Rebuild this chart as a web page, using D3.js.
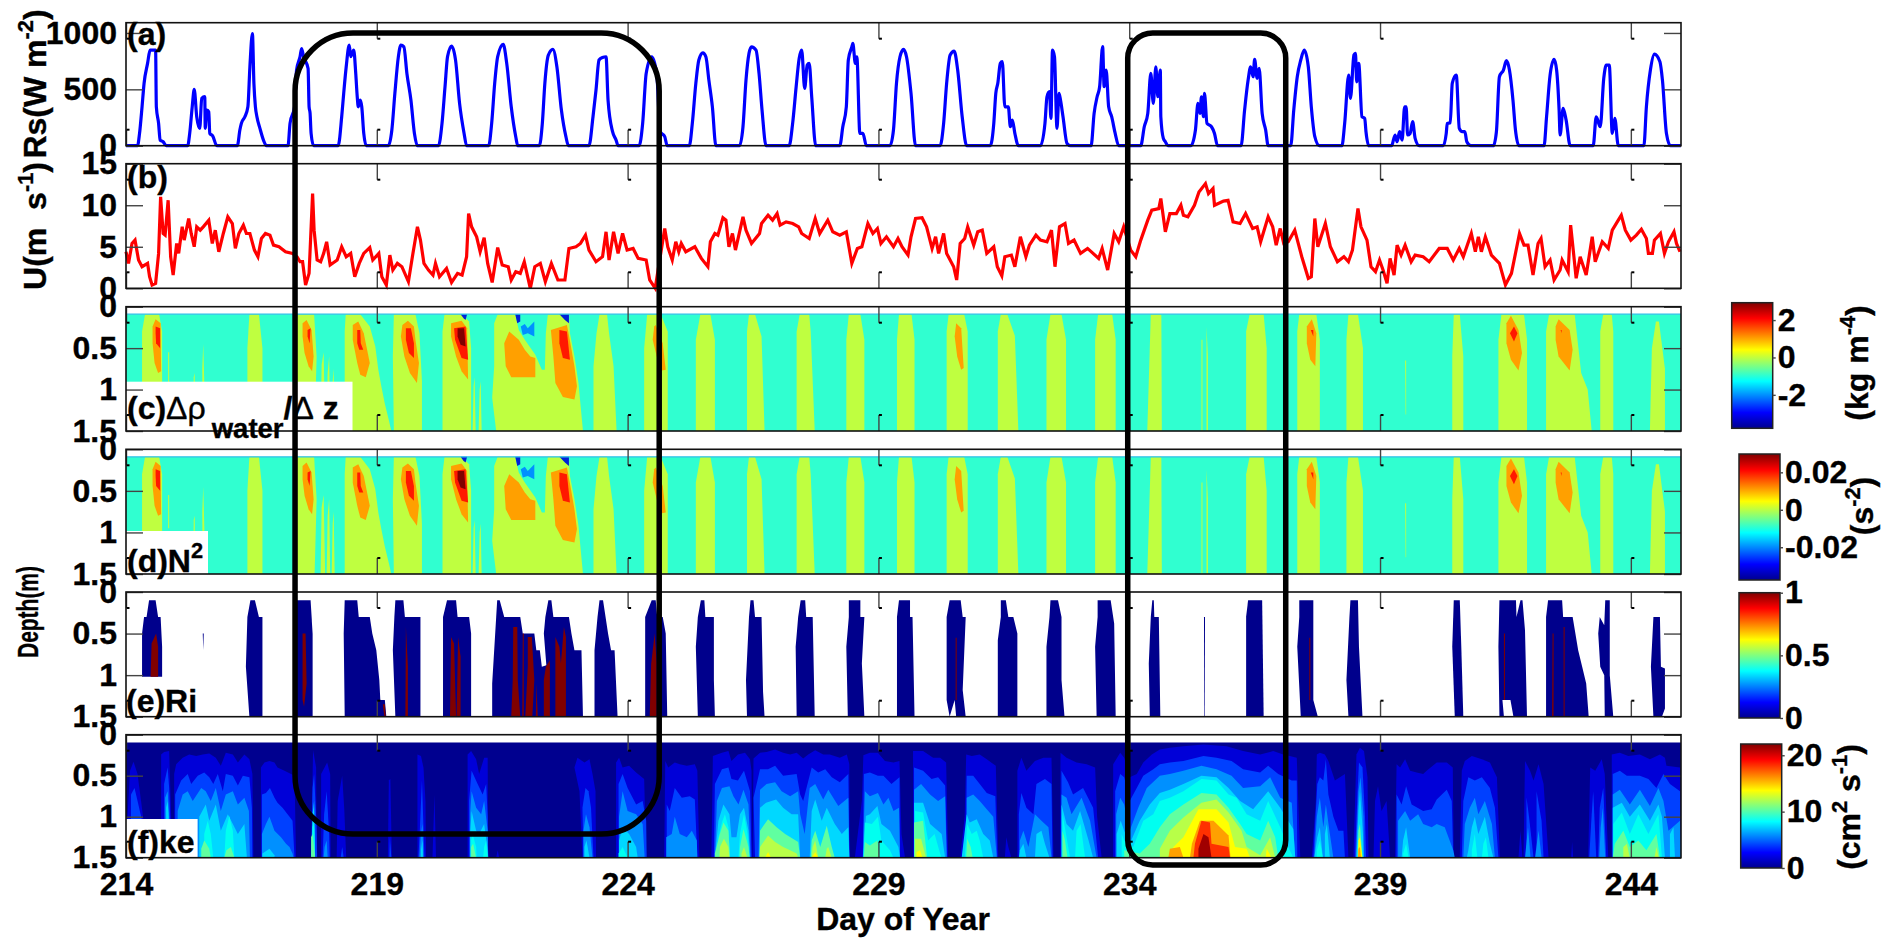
<!DOCTYPE html>
<html>
<head>
<meta charset="utf-8">
<script src="https://cdn.jsdelivr.net/npm/d3@7"></script>
<style>
    html, body { margin: 0; padding: 0; background: #fff; }
    svg { display: block; }
    text { font-family: "Liberation Sans", Arial, sans-serif; font-weight: bold; fill: #000; stroke: #000; stroke-width: 0.35px; }
    .tick text { font-size: 32px; }
</style>
</head>
<body>
<div id="chart"></div>
<script>
// tick labels
const dayTicks = [214, 219, 224, 229, 234, 239, 244];
const rsTicks = [0, 500, 1000];
const windTicks = [0, 5, 10, 15];
const depthTicks = [0, 0.5, 1, 1.5];

// (a) solar radiation, one row per day starting at 214: fraction of the day and W m-2
const rsFrac = [
    [.23,.27,.32,.36,.43,.48,.59,.605,.65,.68,.74,.80],
    [.23,.27,.32,.36,.41,.47,.51,.57,.58,.61,.65,.67,.73,.81],
    [.22,.27,.30,.37,.43,.47,.52,.55,.58,.61,.67,.74,.80],
    [.23,.27,.36,.40,.47,.50,.54,.63,.65,.67,.69,.74],
    [.23,.30,.34,.39,.45,.48,.54,.58,.61,.63,.67,.70,.74,.79],
    [.23,.30,.36,.43,.48,.54,.60,.68,.75,.81],
    [.23,.30,.36,.41,.49,.57,.65,.74,.79],
    [.23,.29,.35,.41,.52,.59,.68,.77,.81],
    [.24,.30,.35,.42,.51,.59,.68,.77,.82],
    [.23,.31,.37,.43,.50,.57,.61,.70,.77,.81],
    [.23,.30,.37,.48,.58,.65,.74,.79],
    [.23,.29,.36,.42,.50,.56,.62,.69,.76],
    [.23,.30,.36,.42,.47,.56,.62,.68,.76],
    [.22,.29,.36,.42,.47,.53,.58,.62,.67,.75],
    [.23,.29,.36,.40,.47,.49,.54,.57,.63,.69,.76],
    [.23,.30,.36,.43,.50,.56,.65,.74],
    [.23,.30,.36,.43,.51,.58,.67,.76],
    [.23,.30,.34,.38,.43,.47,.52,.59,.63,.67,.72,.79],
    [.23,.32,.36,.41,.44,.47,.51,.56,.60,.63,.68,.76,.83],
    [.24,.30,.36,.41,.47,.50,.54,.59,.65,.72,.79],
    [.23,.30,.37,.43,.48,.53,.57,.62,.63,.68,.72,.77],
    [.23,.32,.37,.41,.44,.48,.50,.55,.64,.70,.76],
    [.23,.30,.37,.42,.47,.50,.55,.59,.65,.72,.77],
    [.22,.28,.35,.42,.49,.57,.63,.70,.79],
    [.24,.295,.375,.41,.48,.51,.535,.575,.64,.695,.72,.775],
    [.23,.30,.34,.39,.44,.49,.52,.55,.60,.65,.70,.78],
    [.26,.32,.34,.40,.44,.52,.58,.64,.69,.73,.81],
    [.26,.32,.38,.46,.52,.58,.65,.70,.77],
    [.27,.32,.39,.47,.52,.57,.59,.65,.71,.79],
    [.25,.31,.39,.46,.51,.57,.63,.68,.75],
    [.26,.31,.39,.47,.58,.63,.71,.79]
];
const rsValue = [
    [0,109,345,552,730,848,848,345,197,50,35,0],
    [0,109,345,499,257,154,421,436,154,316,301,109,86,0],
    [0,139,198,257,345,700,995,553,345,257,154,50,0],
    [0,198,345,670,790,862,790,685,345,286,110,0],
    [0,257,464,700,892,790,848,641,434,345,404,345,109,0],
    [0,139,464,790,892,877,641,405,109,0],
    [0,198,523,790,884,759,375,109,0],
    [0,198,553,790,898,730,345,80,0],
    [0,198,553,804,854,700,316,80,0],
    [0,257,494,760,783,789,405,124,50,0],
    [0,198,641,789,641,124,80,0],
    [0,198,553,760,824,789,582,345,0],
    [0,168,582,819,877,848,641,316,0],
    [0,198,523,774,848,508,715,730,434,0],
    [0,168,345,760,877,907,730,789,109,109,0],
    [0,139,553,789,854,789,464,0],
    [0,198,553,804,839,671,257,0],
    [0,198,464,553,730,745,345,345,168,227,110,0],
    [0,198,434,479,242,848,789,154,464,405,257,20,0],
    [0,287,434,523,878,523,671,345,257,109,0],
    [0,168,287,641,375,700,434,671,257,65,35,0],
    [0,139,375,287,434,257,464,198,168,109,0],
    [0,316,582,700,612,765,597,686,287,139,0],
    [0,316,612,760,848,700,345,80,0],
    [0,198,627,420,805,820,567,730,257,242,124,0],
    [0,95,35,124,50,345,345,95,109,213,65,0],
    [0,109,198,204,553,626,154,124,124,35,0],
    [0,124,612,671,754,671,405,139,0],
    [0,257,626,765,671,316,95,331,227,0],
    [0,257,168,597,715,715,109,242,0],
    [0,345,671,812,745,582,109,0]
];

// (b) wind speed as day, U pairs
const windPairs = [
    214.00,4.4, 214.05,3.0, 214.12,5.4, 214.18,5.8, 214.25,3.4, 214.32,2.6, 214.43,3.0, 214.47,1.4, 214.52,.4, 214.59,.6,
    214.65,4.2, 214.69,11.0, 214.74,6.6, 214.78,6.4, 214.84,10.6, 214.89,3.8, 214.94,1.6, 215.01,5.4, 215.05,4.2, 215.12,7.4,
    215.16,5.8, 215.25,8.4, 215.30,6.6, 215.36,5.0, 215.41,7.4, 215.48,7.0, 215.54,7.4, 215.65,8.2, 215.72,5.4, 215.78,7.0,
    215.85,4.4, 215.94,6.6, 216.03,8.6, 216.12,7.8, 216.18,4.8, 216.25,6.6, 216.34,7.6, 216.40,6.6, 216.47,6.6, 216.56,4.6,
    216.63,3.8, 216.70,6.0, 216.78,6.6, 216.87,6.4, 216.94,5.2, 217.05,5.0, 217.18,4.4, 217.32,4.2, 217.41,3.8, 217.47,3.2,
    217.52,3.2, 217.58,.4, 217.65,1.8, 217.72,11.4, 217.75,7.0, 217.81,3.4, 217.88,3.2, 217.94,4.2, 218.00,5.6, 218.07,2.8,
    218.21,3.4, 218.30,5.0, 218.39,3.8, 218.48,4.2, 218.56,1.4, 218.65,3.0, 218.74,4.2, 218.86,4.9, 218.92,3.4, 219.04,4.2,
    219.10,1.4, 219.19,.4, 219.26,4.0, 219.32,2.2, 219.41,3.0, 219.50,2.6, 219.63,.8, 219.72,4.2, 219.81,7.4, 219.87,5.8,
    219.94,3.0, 220.03,2.2, 220.12,1.6, 220.17,3.0, 220.25,1.4, 220.39,2.4, 220.49,.7, 220.61,1.8, 220.70,1.6, 220.79,3.8,
    220.83,9.0, 220.89,7.4, 220.99,6.2, 221.06,4.4, 221.14,6.1, 221.21,3.0, 221.30,.7, 221.41,4.9, 221.50,2.8, 221.62,2.6,
    221.68,1.0, 221.77,2.0, 221.86,1.8, 221.94,3.2, 222.06,0, 222.15,2.6, 222.26,3.0, 222.36,.8, 222.48,3.0, 222.61,1.0,
    222.75,1.0, 222.83,4.8, 222.97,5.0, 223.06,5.4, 223.16,6.4, 223.23,4.6, 223.37,3.2, 223.50,3.8, 223.57,6.8, 223.63,3.4,
    223.72,6.8, 223.81,4.2, 223.90,6.6, 223.99,4.6, 224.11,4.8, 224.21,3.6, 224.37,3.4, 224.44,1.0, 224.55,0,
    224.66,4.2, 224.74,7.2, 224.80,5.0, 224.89,3.4, 224.96,5.6, 225.02,4.4, 225.07,5.4, 225.16,4.4, 225.34,5.0, 225.47,3.6,
    225.60,2.6, 225.65,5.6, 225.74,6.6, 225.80,6.4, 225.90,8.5, 225.96,8.2, 226.02,5.0, 226.09,6.6, 226.15,4.6, 226.30,8.6,
    226.36,7.0, 226.47,5.4, 226.63,6.6, 226.67,7.8, 226.80,8.8, 226.89,8.2, 226.98,9.0, 227.04,7.6, 227.16,8.0, 227.29,7.8,
    227.41,7.4, 227.47,6.6, 227.62,6.0, 227.74,8.4, 227.83,6.6, 227.99,8.2, 228.09,6.8, 228.23,6.4, 228.36,6.8, 228.47,3.0,
    228.58,4.8, 228.67,5.0, 228.79,7.8, 228.89,6.6, 228.98,7.2, 229.05,5.4, 229.16,6.2, 229.30,5.0, 229.39,6.0, 229.47,5.0,
    229.59,4.0, 229.65,6.2, 229.74,8.4, 229.87,8.5, 229.96,7.4, 230.07,4.8, 230.14,6.2, 230.20,4.2, 230.30,6.6, 230.36,4.2,
    230.50,2.6, 230.56,1.0, 230.63,5.4, 230.72,6.0, 230.78,7.4, 230.90,5.2, 230.98,6.8, 231.07,7.0, 231.16,4.2, 231.30,5.0,
    231.37,2.6, 231.46,1.5, 231.52,3.8, 231.65,4.0, 231.72,2.6, 231.83,6.2, 231.94,3.8, 232.01,5.2, 232.14,6.4, 232.23,5.8,
    232.36,5.6, 232.45,7.0, 232.52,2.6, 232.61,7.4, 232.72,7.8, 232.79,5.4, 232.90,5.8, 233.03,4.2, 233.17,4.8, 233.39,3.6,
    233.46,4.8, 233.57,2.2, 233.70,6.6, 233.79,5.6, 233.89,7.4, 234.03,4.6, 234.13,3.8, 234.23,5.8, 234.37,8.2, 234.45,9.4,
    234.59,9.6, 234.63,10.8, 234.72,6.8, 234.81,9.0, 234.94,9.0, 235.03,10.0, 235.08,8.8, 235.17,8.6, 235.30,10.0, 235.39,11.6,
    235.52,12.6, 235.58,11.4, 235.67,12.0, 235.70,10.0, 235.88,10.5, 235.97,10.6, 236.07,8.0, 236.21,7.8, 236.32,9.0, 236.46,7.2,
    236.55,7.4, 236.62,5.6, 236.77,8.6, 236.86,7.4, 236.93,5.2, 237.01,7.2, 237.08,5.4, 237.17,5.6, 237.30,7.0, 237.44,3.8,
    237.57,1.2, 237.63,1.4, 237.70,8.4, 237.76,5.0, 237.91,7.8, 238.01,5.0, 238.15,3.2, 238.28,3.8, 238.37,3.2, 238.45,4.6,
    238.56,9.6, 238.62,7.4, 238.74,5.8, 238.82,2.6, 238.91,2.0, 238.99,3.4, 239.06,2.2, 239.14,.6, 239.20,3.6, 239.28,1.6,
    239.34,5.2, 239.42,4.0, 239.50,5.2, 239.62,3.2, 239.70,4.0, 239.86,3.8, 239.98,3.2, 240.18,4.8, 240.34,4.8, 240.46,3.4,
    240.58,4.8, 240.66,3.8, 240.82,6.6, 240.90,4.4, 240.96,6.2, 241.02,4.4, 241.10,6.2, 241.22,4.0, 241.38,3.0, 241.50,.4,
    241.62,1.8, 241.78,6.6, 241.87,5.2, 241.95,5.2, 242.05,1.6, 242.15,5.4, 242.21,6.0, 242.29,2.6, 242.39,3.4, 242.47,1.0,
    242.59,2.2, 242.63,3.4, 242.75,2.0, 242.80,7.6, 242.91,1.2, 242.99,3.8, 243.11,1.6, 243.23,6.2, 243.29,3.2, 243.43,5.6,
    243.55,4.8, 243.63,7.0, 243.75,8.2, 243.81,8.8, 243.89,7.0, 244.00,5.8, 244.11,6.4, 244.21,7.1, 244.31,6.0, 244.35,4.2,
    244.43,4.2, 244.47,5.8, 244.59,6.6, 244.67,4.2, 244.75,5.6, 244.86,6.8, 244.91,5.4, 244.98,4.4
];

// (c, d) density gradient contour bands, outlines as day, depth pairs
const densYellow = [
    [214.38,.09,214.66,.09,214.72,.30,214.72,1.5,214.32,1.5,214.32,.30],
    [214.84,.55,214.86,.55,214.86,.95,214.84,.95],[215.35,.85,215.37,.8,215.38,1.5,215.34,1.5],[215.52,.75,215.54,.45,215.56,.9,215.58,1.5,215.53,1.5],
    [216.46,.09,216.65,.09,216.72,.5,216.72,1.5,216.42,1.5,216.42,.5],
    [217.42,.09,217.75,.09,217.8,.6,217.76,1.5,217.35,1.5,217.35,.4],
    [217.90,.7,217.94,.55,217.97,1.5,217.88,1.5],[218.02,.8,218.05,.6,218.07,1.5,218.0,1.5],[218.12,.9,218.14,.75,218.16,1.5,218.10,1.5],
    [218.38,.09,218.67,.09,218.86,.24,218.97,.48,219.03,.76,219.09,.96,219.16,1.17,219.24,1.37,219.29,1.5,218.36,1.5,218.36,.3],
    [219.34,.09,219.77,.09,219.85,.32,219.90,.9,219.90,1.5,219.34,1.5,219.32,.6],
    [220.35,.09,220.69,.09,220.84,.18,220.88,.5,220.88,1.5,220.31,1.5,220.31,.3],
    [220.93,.95,220.95,.85,220.97,1.5,220.91,1.5],[221.05,1.0,221.07,.9,221.09,1.5,221.03,1.5],
    [221.41,.09,221.76,.09,221.83,.28,221.95,.40,222.16,.58,222.29,.76,222.35,.76,222.37,.32,222.41,.09,222.83,.09,222.85,.32,222.94,.60,223.02,.92,223.11,1.5,221.38,1.5,221.30,1.1,221.34,.72,221.34,.2],
    [223.44,.09,223.59,.09,223.63,.32,223.72,.72,223.78,1.5,223.32,1.5,223.32,.72,223.38,.32],
    [224.39,.09,224.66,.09,224.80,.3,224.80,1.5,224.33,1.5,224.33,.5],
    [225.45,.09,225.65,.09,225.74,.4,225.74,1.5,225.36,1.5,225.36,.4],
    [226.42,.09,226.54,.09,226.67,.36,226.73,1.5,226.38,1.5,226.38,.3],
    [227.43,.09,227.62,.09,227.65,.3,227.73,1.5,227.37,1.5,227.37,.3],
    [228.41,.09,228.64,.09,228.72,.4,228.72,1.5,228.36,1.5,228.36,.4],
    [229.41,.09,229.66,.09,229.72,.4,229.72,1.5,229.37,1.5,229.37,.4],
    [230.40,.09,230.71,.09,230.78,.3,230.78,1.5,230.36,1.5,230.36,.3],
    [231.44,.09,231.57,.09,231.72,.35,231.79,1.5,231.38,1.5,231.38,.3],
    [232.43,.09,232.65,.09,232.74,.4,232.74,1.5,232.35,1.5,232.35,.4],
    [233.38,.09,233.66,.09,233.73,.4,233.73,1.5,233.32,1.5,233.32,.4],
    [234.43,.09,234.64,.09,234.65,1.5,234.36,1.5],
    [235.44,.4,235.46,.4,235.46,1.5,235.44,1.5],[235.54,.24,235.57,.6,235.57,1.5,235.54,1.5],
    [236.40,.09,236.68,.09,236.74,.5,236.74,1.5,236.33,1.5,236.33,.3],
    [237.39,.09,237.73,.09,237.80,.4,237.80,1.5,237.35,1.5,237.35,.3],
    [238.37,.09,238.56,.09,238.66,.5,238.66,1.5,238.33,1.5,238.33,.4],
    [239.50,.65,239.52,.65,239.52,1.3,239.51,1.3],
    [240.47,.09,240.59,.09,240.66,.6,240.66,1.5,240.44,1.5,240.44,.6],
    [241.42,.09,241.87,.09,241.93,.4,241.93,1.5,241.36,1.5,241.36,.4],
    [242.37,.09,242.88,.09,243.01,.8,243.14,1.0,243.22,1.5,242.31,1.5,242.31,.3],
    [243.45,.09,243.62,.09,243.65,.3,243.65,1.5,243.39,1.5,243.39,.3],
    [244.50,.18,244.56,.18,244.68,.75,244.68,1.5,244.38,1.5,244.42,.5]
];
const densOrange = [
    [214.59,.15,214.69,.20,214.70,.78,214.64,.80,214.57,.68,214.53,.44,214.53,.24],
    [217.52,.20,217.60,.16,217.70,.28,217.74,.60,217.71,.78,217.64,.72,217.56,.56,217.52,.36],
    [218.52,.22,218.63,.18,218.74,.32,218.86,.68,218.78,.85,218.67,.82,218.61,.68,218.52,.40],
    [219.51,.22,219.62,.17,219.74,.24,219.77,.40,219.84,.68,219.80,.92,219.66,.80,219.55,.60,219.48,.36],
    [220.48,.20,220.69,.17,220.80,.26,220.82,.88,220.69,.78,220.58,.60,220.48,.36],
    [221.64,.30,221.83,.40,221.95,.52,222.06,.60,222.16,.62,222.16,.85,221.68,.85,221.57,.72,221.54,.44],
    [222.47,.28,222.79,.22,222.86,.44,222.94,.72,222.99,.96,222.94,1.12,222.71,1.09,222.56,.92,222.52,.60],
    [224.53,.24,224.56,.22,224.70,.44,224.76,.76,224.68,.77,224.58,.60,224.50,.40],
    [230.55,.20,230.65,.26,230.70,.74,230.65,.76,230.57,.60,230.52,.36],
    [237.54,.24,237.64,.15,237.73,.32,237.71,.72,237.61,.64,237.54,.44],
    [241.52,.20,241.61,.11,241.76,.28,241.83,.56,241.76,.77,241.61,.64,241.52,.44],
    [242.50,.24,242.56,.15,242.78,.28,242.84,.52,242.78,.77,242.56,.60,242.50,.40]
];
const densRed = [
    [214.59,.24,214.68,.26,214.68,.50,214.60,.44,214.59,.32],
    [217.62,.28,217.68,.26,217.66,.44,217.62,.36],
    [218.61,.28,218.67,.28,218.68,.44,218.73,.52,218.65,.52,218.61,.44],
    [219.58,.26,219.68,.26,219.74,.44,219.74,.62,219.64,.56,219.58,.40],
    [220.54,.26,220.77,.24,220.82,.64,220.69,.62,220.56,.40],
    [222.64,.28,222.79,.30,222.85,.64,222.71,.62,222.64,.44],
    [237.62,.28,237.67,.28,237.67,.36],
    [241.59,.32,241.67,.24,241.74,.32,241.67,.42],
    [242.60,.28,242.62,.28,242.62,.32]
];
const densDark = [[220.61,.26,220.74,.26,220.77,.48,220.67,.46,220.61,.36]];
const densSky = [[221.87,.24,221.95,.21,222.01,.26,222.14,.18,222.14,.36,222.01,.32,221.91,.34]];
const densDeep = [
    [220.67,.09,220.80,.09,220.77,.16,220.73,.14],
    [221.76,.09,221.86,.09,221.86,.18,221.80,.20],
    [222.64,.09,222.83,.09,222.83,.20,222.75,.16]
];

// (e) Richardson number contour patches
const riLow = [
    [214.46,.10,214.59,.10,214.64,.30,214.69,.30,214.72,.66,214.72,1.02,214.32,1.02,214.32,.50,214.36,.30,214.41,.30],
    [215.53,.5,215.55,.5,215.54,.7],
    [216.48,.10,216.57,.10,216.65,.30,216.72,.30,216.72,1.5,216.46,1.5,216.39,.90,216.42,.30],
    [217.36,.10,217.68,.10,217.72,.50,217.72,1.5,217.38,1.5],
    [218.36,.10,218.61,.10,218.64,.30,218.86,.30,218.91,.50,218.99,.70,219.05,1.06,219.07,1.30,219.16,1.30,219.19,1.5,218.36,1.5,218.34,.50],
    [219.37,.10,219.53,.10,219.56,.30,219.87,.30,219.87,1.5,219.37,1.5,219.32,.70,219.35,.30],
    [220.40,.10,220.58,.10,220.61,.30,220.84,.30,220.88,.50,220.88,1.5,220.32,1.5,220.32,.30],
    [221.40,.10,221.45,.10,221.54,.30,221.86,.30,221.91,.50,222.14,.50,222.18,.70,222.25,.70,222.29,.90,222.38,.88,222.33,.50,222.36,.30,222.42,.10,222.48,.10,222.52,.30,222.83,.30,222.88,.50,222.94,.70,223.08,.70,223.11,1.5,221.30,1.5,221.30,1.1,221.38,.30],
    [223.44,.10,223.51,.10,223.61,.50,223.67,.70,223.74,.70,223.80,1.5,223.34,1.5,223.34,.70,223.40,.30],
    [224.48,.10,224.56,.10,224.59,.30,224.70,.30,224.76,.50,224.79,1.5,224.35,1.5,224.35,.30],
    [225.46,.10,225.53,.10,225.55,.30,225.72,.30,225.72,1.06,225.74,1.5,225.40,1.5,225.36,.66,225.40,.30],
    [226.45,.10,226.51,.10,226.54,.30,226.67,.30,226.70,1.2,226.73,1.5,226.38,1.5,226.36,1.06,226.42,.30],
    [227.45,.10,227.54,.10,227.56,.30,227.69,.30,227.73,1.5,227.37,1.5,227.35,.66,227.40,.30],
    [228.41,.10,228.64,.10,228.64,.30,228.72,.30,228.67,.86,228.72,1.5,228.39,1.5,228.36,.66,228.41,.30],
    [229.41,.10,229.63,.10,229.63,.30,229.68,.30,229.72,1.5,229.37,1.5,229.37,.30],
    [230.42,.10,230.64,.10,230.68,.30,230.74,.30,230.68,1.18,230.74,1.5,230.55,1.5,230.52,1.3,230.42,1.5,230.36,1.3,230.36,.30],
    [231.44,.10,231.54,.10,231.59,.30,231.69,.30,231.77,.50,231.77,1.5,231.38,1.5,231.38,.58,231.44,.30],
    [232.43,.10,232.58,.10,232.65,.30,232.65,1.06,232.71,1.5,232.35,1.5,232.35,.66,232.41,.30],
    [233.37,.10,233.63,.10,233.70,.38,233.73,1.5,233.35,1.5,233.32,.66,233.37,.30],
    [234.46,.10,234.49,.10,234.50,.30,234.59,.30,234.62,1.5,234.41,1.5,234.39,.86,234.43,.30],
    [235.49,.30,235.51,.30,235.51,1.5,235.50,1.5],
    [236.37,.10,236.65,.10,236.68,1.5,236.33,1.5,236.33,.30],
    [237.39,.10,237.67,.10,237.67,1.30,237.76,1.5,237.42,1.5,237.35,.66,237.39,.30],
    [238.41,.10,238.56,.10,238.58,.66,238.65,1.5,238.37,1.5,238.33,1.06,238.39,.30],
    [240.47,.10,240.59,.10,240.62,.66,240.66,1.5,240.49,1.5,240.44,.66],
    [241.38,.10,241.71,.10,241.72,.30,241.80,.10,241.84,.10,241.89,.46,241.93,1.5,241.66,1.5,241.60,1.30,241.44,1.30,241.47,1.5,241.38,1.5,241.36,.66],
    [242.35,.10,242.63,.10,242.65,.30,242.84,.30,242.95,.70,243.03,.90,243.11,1.10,243.16,1.5,242.31,1.5,242.31,.30],
    [243.49,.10,243.58,.10,243.58,1.0,243.65,1.5,243.48,1.5,243.47,1.0,243.39,.90,243.35,.50,243.38,.30,243.47,.40],
    [244.45,.30,244.58,.30,244.60,.90,244.68,.92,244.68,1.4,244.62,1.5,244.45,1.5,244.40,.9]
];
const riHigh = [
    [214.49,1.02,214.51,.62,214.60,.50,214.64,.66,214.64,1.02],
    [217.52,.5,217.58,.5,217.60,1.1,217.55,1.38,217.52,1.3],
    [219.12,1.35,219.16,1.35,219.18,1.5,219.15,1.5],
    [219.58,.42,219.62,.9,219.62,1.5,219.57,1.5],
    [220.48,.54,220.54,.62,220.58,1.5,220.46,1.5],[220.62,.54,220.67,.78,220.67,1.5,220.59,1.5],
    [221.72,.42,221.80,.42,221.81,1.06,221.86,1.5,221.68,1.5,221.71,1.06],
    [221.91,.5,221.93,.5,221.93,1.5,221.90,1.5],
    [222.01,.54,222.09,.54,222.14,1.06,222.10,1.5,221.96,1.5,222.01,.9],
    [222.18,1.1,222.21,1.5,222.17,1.5],
    [222.33,1.06,222.37,.9,222.45,.82,222.45,1.5,222.33,1.5],
    [222.56,.54,222.64,.66,222.67,.86,222.73,.42,222.77,.54,222.77,1.5,222.56,1.5],
    [224.54,.5,224.58,.86,224.58,1.5,224.44,1.5,224.47,.86],
    [230.54,.55,230.56,.55,230.56,1.3,230.54,1.3],
    [237.59,.55,237.61,.55,237.61,1.3,237.59,1.3],
    [241.47,.5,241.49,.5,241.49,1.3,241.47,1.3],
    [242.44,.5,242.46,.5,242.46,1.5,242.43,1.5],
    [242.66,.42,242.68,.42,242.68,1.5,242.66,1.5]
];

// (f) turbulent kinetic energy, top of each contour level as day, depth pairs (each closes on the 1.5 m line)
const keLevel1 = [
    [214.03,1.0,214.08,.44,214.15,.33,214.23,.48,214.30,.81,214.35,1.05],
    [214.70,.24,214.76,.21,214.86,.20,214.90,1.0],
    [214.96,.48,215.00,.36,215.13,.28,215.26,.24,215.40,.26,215.53,.24,215.66,.23,215.79,.28,215.89,.38,215.99,.22,216.13,.24,216.23,.34,216.36,.24,216.46,.30,216.52,.48,216.54,1.5],
    [216.69,.40,216.76,.34,216.86,.32,216.96,.34,217.02,.40,217.16,.44,217.29,.48,217.36,.50,217.39,1.5],
    [217.71,.81,217.73,.19,217.79,.40,217.80,1.5],
    [217.89,.48,218.01,.34,218.07,.48,218.08,1.5],
    [218.20,1.5,218.22,.81,218.31,.50,218.35,.89,218.39,1.5],
    [219.22,1.5,219.24,.56,219.27,.54,219.30,1.5],
    [219.81,.24,219.88,.26,219.93,.40,219.97,.81,219.98,1.5],
    [220.11,1.5,220.15,.73,220.18,1.5],
    [220.81,.24,220.88,.20,220.98,.30,221.04,.48,221.14,.28,221.21,.28,221.22,1.5],
    [221.38,1.5,221.41,1.41,221.44,1.5],
    [223.10,1.5,223.04,.69,222.94,.40,223.0,.28,223.14,.34,223.24,.30,223.30,.48,223.36,.69,223.37,1.5],
    [223.77,.34,223.83,.28,223.90,.40,224.03,.38,224.17,.46,224.33,.54,224.37,1.5],
    [224.73,1.5,224.75,.32,224.81,.40,224.94,.34,225.04,.36,225.18,.38,225.34,.36,225.39,.44,225.43,1.5],
    [225.67,1.5,225.70,.26,225.88,.22,226.01,.20,226.07,.32,226.20,.24,226.34,.22,226.44,.30,226.47,.44,226.48,1.5],
    [226.49,1.5,226.51,.29,226.64,.22,226.77,.21,226.94,.18,227.10,.22,227.24,.24,227.37,.22,227.50,.29,227.60,.24,227.74,.19,227.90,.24,228.03,.24,228.23,.28,228.37,.24,228.42,.36,228.43,1.5],
    [228.53,1.5,228.67,.81,228.70,.25,228.83,.22,228.99,.22,229.13,.32,229.30,.34,229.42,.32,229.46,1.21,229.53,1.5],
    [229.69,.20,229.89,.20,230.09,.28,230.23,.28,230.35,.34,230.39,1.5],
    [230.63,1.5,230.72,1.0,230.75,.24,230.86,.26,231.02,.24,231.16,.30,231.34,.38,231.39,1.5],
    [231.52,1.5,231.55,1.25,231.59,1.37,231.65,1.5],
    [231.77,.44,231.85,.28,231.95,.44,232.12,.32,232.29,.28,232.45,.28,232.49,1.5],
    [232.62,1.5,232.63,.22,232.75,.28,232.95,.34,233.15,.36,233.32,.40,233.36,1.0,233.45,1.5],
    [233.68,.36,233.82,.22,233.90,.28,234.01,.52,234.15,.48,234.28,.34,234.45,.24,234.61,.18,234.81,.16,235.08,.14,235.48,.12,235.94,.14,236.27,.20,236.61,.24,236.87,.20,237.07,.24,237.20,.26,237.34,.28,237.37,.81,237.41,1.5],
    [237.64,1.5,237.72,.81,237.74,.24,237.80,.22,237.90,.24,237.97,.32,238.10,.56,238.20,.52,238.30,.48,238.37,1.5],
    [238.47,1.5,238.53,.24,238.60,.16,238.68,.20,238.75,.52,238.77,1.5],
    [238.87,1.5,238.90,.81,238.96,.63,239.03,.93,239.13,.81,239.20,1.5],
    [239.30,1.5,239.33,.36,239.40,.40,239.50,.30,239.60,.44,239.73,.46,239.86,.48,239.93,.44,240.13,.34,240.33,.34,240.45,.40,240.47,1.5],
    [240.59,1.5,240.63,.44,240.69,.32,240.83,.26,241.03,.30,241.19,.34,241.33,.52,241.39,1.5],
    [241.76,1.5,241.80,1.17,241.84,1.5],
    [241.86,1.5,241.89,.32,241.99,.44,242.06,.56,242.16,.36,242.26,.60,242.36,1.5],
    [242.81,1.5,242.83,1.31,242.85,1.5],
    [243.15,1.5,243.19,.40,243.29,.44,243.42,.30,243.48,.48,243.55,1.5],
    [243.62,.24,243.78,.22,243.95,.26,244.18,.24,244.38,.30,244.58,.24,244.68,.28,244.71,.38,244.98,.40,245,1.5]
];
const keLevel2 = [
    [214.10,.73,214.17,.65,214.23,.81,214.32,1.05],
    [214.76,.60,214.83,.40,214.86,.65,214.88,1.0],
    [214.98,.73,215.10,.56,215.23,.48,215.30,.60,215.43,.50,215.56,.46,215.66,.52,215.74,.60,215.83,.48,215.93,.69,215.99,.48,216.13,.50,216.23,.62,216.33,.50,216.46,.52,216.51,.89,216.52,1.5],
    [216.71,.73,216.79,.71,216.87,.65,216.96,.77,217.02,.83,217.12,.89,217.26,1.0,217.32,1.05,217.36,1.5],
    [217.69,1.5,217.72,.65,217.75,.48,217.80,1.13,217.81,1.5],
    [217.92,1.5,217.95,.97,218.00,.69,218.05,1.21,218.06,1.5],
    [218.28,1.5,218.31,1.37,218.34,1.5],
    [219.25,1.5,219.26,1.25,219.29,1.5],
    [219.83,1.5,219.86,1.13,219.90,.56,219.93,1.13,219.95,1.5],
    [220.84,.81,220.89,.44,221.01,.60,221.11,.73,221.18,.60,221.21,1.0,221.22,1.5],
    [223.12,1.5,223.10,.89,223.16,.65,223.22,.69,223.27,.89,223.32,1.5],
    [223.82,.60,223.90,.48,224.00,.65,224.17,.85,224.30,.81,224.37,1.05,224.38,1.5],
    [224.78,.85,224.84,.93,224.94,.65,225.08,.77,225.24,.75,225.34,.79,225.39,1.5],
    [225.72,1.5,225.74,.60,225.88,.42,226.01,.40,226.07,.54,226.20,.56,226.32,.44,226.44,.69,226.47,1.5],
    [226.54,1.5,226.51,.77,226.64,.42,226.80,.42,226.94,.38,227.10,.50,227.37,.48,227.44,.73,227.50,.81,227.67,.40,227.80,.46,227.94,.42,228.07,.52,228.23,.58,228.40,.48,228.42,1.5],
    [228.69,1.5,228.71,.48,228.83,.46,228.99,.50,229.10,.50,229.26,.60,229.42,.52,229.43,1.5],
    [229.71,.40,229.89,.44,230.06,.54,230.19,.52,230.33,.62,230.37,1.5],
    [230.66,1.5,230.75,1.13,230.76,.50,230.89,.50,231.02,.60,231.16,.71,231.33,.75,231.37,1.5],
    [231.80,.97,231.85,.71,231.95,.89,232.09,.97,232.15,.60,232.32,.54,232.45,.60,232.47,1.5],
    [232.65,.44,232.78,.58,232.88,.73,233.08,.65,233.28,.89,233.38,1.5],
    [233.72,.69,233.82,.48,233.90,.52,234.01,.81,234.15,.65,234.28,.50,234.48,.42,234.61,.36,234.81,.34,235.08,.32,235.48,.26,235.74,.28,236.04,.32,236.27,.42,236.61,.46,236.77,.38,236.97,.48,237.24,.56,237.34,.56,237.35,1.5],
    [237.67,1.5,237.75,.60,237.80,.52,237.87,.56,237.92,.30,237.97,.73,238.07,1.0,238.17,1.17,238.27,1.17,238.30,1.5],
    [238.50,1.5,238.55,.73,238.58,.34,238.65,.40,238.70,1.0,238.72,1.5],
    [239.33,.73,239.43,.85,239.52,.63,239.63,.85,239.86,.93,240.03,.91,240.13,.79,240.33,.67,240.43,.81,240.46,1.5],
    [240.63,1.5,240.66,.81,240.76,.52,240.89,.56,241.03,.52,241.19,.65,241.29,.89,241.36,1.5],
    [241.92,.77,241.97,1.0,242.06,1.5],
    [242.12,.69,242.22,1.05,242.26,1.5],
    [243.17,1.5,243.22,.97,243.25,.69,243.31,1.5],
    [243.35,1.5,243.38,.89,243.45,.65,243.51,1.5],
    [243.64,.48,243.78,.44,243.92,.50,244.18,.50,244.35,.54,244.51,.65,244.65,.48,244.78,.60,244.98,.69,245,1.5]
];
const keLevel3 = [
    [214.78,.77,214.83,.69,214.86,1.0],
    [215.03,.93,215.13,.73,215.23,.69,215.33,.81,215.50,.65,215.59,.69,215.69,.81,215.79,.65,215.89,.93,215.99,.73,216.13,.69,216.23,.85,216.36,.77,216.45,.93,216.47,1.5],
    [216.71,1.21,216.79,1.09,216.86,1.0,216.96,1.17,217.09,1.25,217.19,1.33,217.26,1.37,217.32,1.45,217.34,1.5],
    [217.94,1.5,217.96,1.37,218.00,1.29,218.02,1.5],
    [219.85,1.5,219.88,1.21,219.91,1.09,219.93,1.5],
    [220.86,.97,220.89,.69,220.98,.89,221.08,.97,221.14,.81,221.21,1.17,221.22,1.5],
    [223.12,1.17,223.17,.97,223.24,1.13,223.30,1.5],
    [223.83,1.0,223.90,.69,224.00,.93,224.17,.97,224.30,1.09,224.34,1.5],
    [224.77,1.25,224.88,1.21,224.94,1.0,225.04,1.21,225.18,1.25,225.28,1.17,225.38,1.29,225.39,1.5],
    [225.74,1.5,225.78,.81,225.88,.65,226.03,.63,226.11,.75,226.21,.85,226.31,.67,226.41,.85,226.45,1.5],
    [226.61,1.5,226.64,.67,226.77,.60,226.94,.58,227.07,.69,227.24,.75,227.40,.69,227.44,.97,227.53,1.21,227.63,.65,227.74,.60,227.90,.79,228.0,.67,228.20,.87,228.40,.77,228.42,1.5],
    [228.69,1.5,228.73,.69,228.83,.75,228.99,.71,229.10,.85,229.20,.77,229.30,.93,229.41,.89,229.43,1.5],
    [229.71,.67,229.85,.60,230.03,.73,230.19,.81,230.33,.75,230.36,1.5],
    [230.69,1.5,230.76,1.21,230.76,.77,230.89,.73,231.02,.81,231.16,.91,231.29,1.0,231.36,1.5],
    [231.82,1.29,231.89,1.17,231.99,1.37,232.12,.97,232.25,1.05,232.39,1.13,232.45,1.5],
    [232.65,.73,232.75,.77,232.85,.97,233.05,.77,233.22,1.05,233.35,1.5],
    [233.74,.97,233.82,.77,233.90,.85,234.01,1.17,234.18,.89,234.35,.65,234.61,.50,234.81,.48,235.08,.44,235.44,.38,235.74,.42,236.04,.50,236.27,.65,236.61,.63,236.81,.52,237.01,.77,237.24,.83,237.31,1.5],
    [237.69,1.5,237.74,1.0,237.80,.77,237.87,1.13,237.92,.85,238.0,1.21,238.07,1.5],
    [238.52,1.5,238.57,.69,238.61,.52,238.67,1.0,238.68,1.5],
    [239.36,1.05,239.50,.93,239.60,1.05,239.76,.97,239.86,1.09,240.03,1.13,240.13,1.09,240.29,1.13,240.46,1.41,240.49,1.5],
    [240.66,1.5,240.69,1.09,240.79,.89,240.89,.77,240.96,.97,241.09,.81,241.23,1.09,241.29,1.5],
    [241.89,1.5,241.95,1.13,242.0,1.5],[242.09,1.5,242.16,1.17,242.22,1.5],
    [243.37,1.5,243.40,1.13,243.44,.89,243.49,1.5],
    [243.64,.73,243.78,.67,243.98,.85,244.18,.67,244.38,.87,244.55,.65,244.65,.81,244.75,1.17,244.98,1.05,245,1.5]
];
const keLevel4 = [
    [214.80,.89,214.83,.81,214.85,1.0],
    [215.46,1.0,215.59,.85,215.66,1.05,215.79,.85,215.89,1.17,216.03,.97,216.13,1.09,216.23,1.21,216.36,1.09,216.41,1.5],
    [216.72,1.45,216.86,1.39,216.96,1.47],
    [217.69,1.5,217.72,.97,217.75,.81,217.77,1.5],
    [219.88,1.41,219.91,1.29,219.92,1.5],
    [220.86,1.21,220.89,.93,220.98,1.17,221.04,1.21,221.14,1.09,221.21,1.41,221.22,1.5],
    [223.14,1.37,223.18,1.29,223.24,1.5],
    [223.83,1.29,223.90,1.13,224.03,1.21,224.17,1.37,224.2,1.5],
    [225.74,1.5,225.81,1.05,225.91,.85,226.03,.97,226.07,1.25,226.17,1.25,226.24,.97,226.32,.89,226.41,1.17,226.44,1.5],
    [226.63,1.5,226.64,.89,226.76,.83,226.96,.79,227.10,.89,227.27,.97,227.40,.97,227.44,1.5],
    [227.63,1.5,227.67,.93,227.74,.79,227.87,1.05,227.97,.89,228.13,1.09,228.27,1.21,228.40,1.13,228.42,1.5],
    [228.70,1.5,228.75,.99,228.83,.97,228.98,.87,229.06,1.09,229.23,1.17,229.40,1.37,229.43,1.5],
    [229.71,.83,229.89,.83,230.03,1.09,230.26,1.21,230.33,1.5],
    [230.66,1.5,230.76,.97,230.82,1.07,230.96,1.03,231.09,1.21,231.22,1.29,231.29,1.5],
    [231.80,1.5,231.82,1.41,231.89,1.33,231.95,1.5],
    [232.12,1.5,232.15,1.21,232.25,1.17,232.32,1.33,232.41,1.5],
    [232.65,.85,232.75,1.09,232.88,1.17,233.02,.93,233.19,1.29,233.28,1.5],
    [233.75,1.21,233.83,1.05,233.90,1.17,234.01,1.33,234.21,1.05,234.41,.85,234.61,.71,234.81,.67,235.08,.60,235.44,.50,235.74,.52,235.98,.65,236.21,.81,236.47,.91,236.77,.69,237.01,.89,237.27,1.15,237.31,1.5],
    [237.69,1.5,237.75,1.25,237.80,1.13,237.86,1.5],[237.90,1.21,237.94,1.09,238.0,1.5],
    [238.53,1.5,238.57,.93,238.60,.69,238.66,1.21,238.67,1.5],
    [239.43,1.5,239.46,1.29,239.52,1.13,239.60,1.5],
    [240.73,1.5,240.76,1.41,240.83,1.13,240.89,1.0,240.96,1.21,241.09,1.0,241.19,1.33,241.26,1.5],
    [243.64,.89,243.82,.83,243.98,1.0,244.18,.85,244.38,1.05,244.55,.85,244.62,1.0,244.68,1.5],
    [244.78,1.21,244.85,1.13,244.88,1.5]
];
const keLevel5 = [
    [215.56,1.21,215.63,1.05,215.69,1.21,215.74,1.5],
    [215.96,1.5,215.99,1.17,216.06,.99,216.13,1.17,216.16,1.5],
    [217.72,1.13,217.75,1.05,217.77,1.5],
    [220.88,1.29,220.91,1.21,220.98,1.37,220.99,1.5],
    [221.12,1.5,221.14,1.37,221.18,1.29,221.21,1.5],
    [223.82,1.45,223.90,1.37,224.0,1.5],
    [225.76,1.5,225.81,1.25,225.88,1.07,225.94,.97,226.01,1.13,226.04,1.5],
    [226.21,1.5,226.24,1.21,226.32,.97,226.39,1.21,226.43,1.5],
    [228.70,1.5,228.73,1.07,228.87,1.09,228.99,1.0,229.06,1.29,229.23,1.41,229.30,1.5],
    [229.73,.93,229.89,.95,229.99,1.29,230.12,1.21,230.23,1.45,230.26,1.5],
    [230.72,1.5,230.77,1.09,230.86,1.21,230.96,1.17,231.02,1.29,231.09,1.5],
    [232.67,.97,232.75,1.25,232.82,1.5],
    [232.92,1.5,232.95,1.17,233.03,1.09,233.12,1.5],
    [233.85,1.21,233.90,1.29,234.08,1.37,234.28,1.05,234.48,.97,234.61,.81,234.81,.77,235.08,.69,235.44,.54,235.74,.56,235.98,.73,236.14,.77,236.34,.97,236.61,1.05,236.77,.81,237.01,1.13,237.17,1.37,237.27,1.5],
    [237.74,1.41,237.80,1.29,237.86,1.5],
    [239.46,1.45,239.52,1.33,239.57,1.5],
    [240.83,1.41,240.89,1.21,240.94,1.5],[241.03,1.5,241.06,1.33,241.11,1.25,241.16,1.5],
    [243.65,1.09,243.82,.95,243.98,1.21,244.15,.97,244.35,1.21,244.55,.97,244.62,1.5]
];
const keLevel6 = [
    [215.50,1.39,215.56,1.29,215.66,1.39,215.69,1.5],
    [215.96,1.5,216.0,1.41,216.09,1.37,216.16,1.5],
    [217.69,1.25,217.72,1.21,217.77,1.5],
    [220.88,1.37,220.92,1.33,220.98,1.5],
    [225.74,1.45,225.84,1.21,225.91,1.07,226.01,1.17,226.04,1.5],
    [226.23,1.5,226.24,1.37,226.31,1.15,226.41,1.37,226.43,1.5],
    [226.63,1.5,226.64,1.17,226.80,1.03,226.97,1.13,227.14,1.21,227.40,1.31,227.44,1.5],
    [227.65,1.5,227.67,1.29,227.74,1.17,227.84,1.37,227.97,1.11,228.07,1.37,228.13,1.5],
    [228.71,1.5,228.73,1.31,228.83,1.35,228.98,1.29,229.02,1.5],
    [229.71,1.07,229.89,1.05,229.97,1.5],
    [230.75,1.5,230.77,1.27,230.84,1.37,230.88,1.5],
    [232.67,1.17,232.72,1.29,232.77,1.5],
    [233.90,1.41,234.21,1.45,234.41,1.33,234.61,1.13,234.81,.97,235.08,.85,235.44,.71,235.74,.73,235.98,.89,236.21,1.09,236.34,1.21,236.61,1.29,236.77,1.05,236.91,1.25,236.97,1.5],
    [238.55,1.5,238.57,1.17,238.60,1.09,238.65,1.5],
    [243.64,1.5,243.68,1.33,243.85,1.17,243.98,1.37,244.15,1.29,244.31,1.41,244.51,1.21,244.58,1.5]
];
const keLevel7 = [
    [225.83,1.5,225.84,1.37,225.92,1.27,226.01,1.37,226.03,1.5],
    [226.27,1.45,226.32,1.37,226.39,1.5],
    [226.63,1.5,226.64,1.37,226.80,1.23,226.94,1.31,227.10,1.37,227.24,1.41,227.37,1.45,227.40,1.5],
    [227.67,1.5,227.69,1.37,227.74,1.29,227.80,1.5],
    [227.94,1.5,227.97,1.39,228.0,1.37,228.07,1.5],
    [229.73,1.27,229.85,1.27,229.95,1.5],
    [234.61,1.39,234.81,1.17,235.08,1.01,235.44,.83,235.74,.79,235.98,.95,236.24,1.17,236.34,1.37,236.61,1.47,236.81,1.25,236.91,1.5],
    [243.85,1.37,243.92,1.33,243.98,1.5],[244.47,1.5,244.51,1.37,244.56,1.5]
];
const keLevel8 = [
    [226.74,1.5,226.80,1.43,226.86,1.5],
    [227.67,1.5,227.74,1.43,227.80,1.5],
    [229.76,1.43,229.83,1.41,229.88,1.5],
    [234.84,1.5,234.88,1.37,235.08,1.25,235.38,.91,235.74,.91,235.98,1.07,236.11,1.37,236.34,1.39,236.41,1.5],
    [236.72,1.5,236.74,1.39,236.84,1.5],
    [238.56,1.5,238.57,1.29,238.60,1.25,238.65,1.5]
];
const keLevel9 = [
    [234.78,1.5,234.81,1.39,235.01,1.37,235.08,1.5],
    [235.21,1.5,235.25,1.33,235.41,1.05,235.68,1.05,235.98,1.23,236.02,1.5],
    [238.56,1.5,238.57,1.39,238.60,1.37,238.62,1.5]
];
const keLevel10 = [[235.28,1.5,235.31,1.33,235.44,1.05,235.61,1.07,235.64,1.33,235.98,1.37,236.01,1.5]];
const keLevel11 = [[235.38,1.39,235.48,1.21,235.58,1.25,235.64,1.5]];
const keColors = ["#0000D8", "#0040FF", "#0090FF", "#00D8FF", "#00FFF0", "#60FFA0", "#B8FF48", "#FFFF00", "#FFA000", "#FF3000", "#A00000"];

// colorbar ticks
const densBarTicks = [-2, 0, 2];
const n2BarTicks = [-0.02, 0, 0.02];
const riBarTicks = [0, 0.5, 1];
const keBarTicks = [0, 10, 20];
const jetOffsets = [0, .125, .375, .625, .875, 1];
const jetColors = ["#00008F", "#0000FF", "#00FFFF", "#FFFF00", "#FF0000", "#800000"];

const svg = d3.select("#chart").append("svg").attr("width", 1881).attr("height", 938);

let x = d3.scaleLinear().domain([214, 245]).range([126, 1681]);
let yRs = d3.scaleLinear().domain([0, 1091]).range([145.7, 22.7]);
let yWind = d3.scaleLinear().domain([0, 15]).range([288.3, 163.7]);
let yC = d3.scaleLinear().domain([0, 1.5]).range([306.7, 431]);
let yD = d3.scaleLinear().domain([0, 1.5]).range([449.3, 574]);
let yE = d3.scaleLinear().domain([0, 1.5]).range([592, 716.7]);
let yF = d3.scaleLinear().domain([0, 1.5]).range([734.7, 857.7]);

// turn a flat day, depth list into [[day, depth], ...]
function pairs(flat) {
    let out = [];
    for (let i = 0; i < flat.length; i += 2) out.push([flat[i], flat[i + 1]]);
    return out;
}

function drawPolys(g, list, y, color) {
    let line = d3.line().x(d => x(d[0])).y(d => y(d[1]));
    g.append("g").selectAll("path")
        .data(list)
        .enter()
        .append("path")
        .attr("d", d => line(pairs(d)) + "Z")
        .attr("fill", color);
}

// filled level: top curve closed down on the bottom of the panel
function drawLevel(g, list, y, color) {
    let closed = list.map(d => {
        let p = d.slice();
        p.push(d[d.length - 2], 1.5, d[0], 1.5);
        return p;
    });
    drawPolys(g, closed, y, color);
}

function densityField(y) {
    let g = svg.append("g");
    g.append("rect")
        .attr("x", x(214)).attr("width", x(245) - x(214))
        .attr("y", y(0.09)).attr("height", y(1.5) - y(0.09))
        .attr("fill", "#30FFD0");
    drawPolys(g, densYellow, y, "#BFFF40");
    drawPolys(g, densOrange, y, "#FFA000");
    drawPolys(g, densRed, y, "#FF1800");
    drawPolys(g, densDark, y, "#800000");
    drawPolys(g, densSky, y, "#0090FF");
    drawPolys(g, densDeep, y, "#0020D8");
    g.append("line")
        .attr("x1", x(214)).attr("x2", x(245))
        .attr("y1", y(0.09)).attr("y2", y(0.09))
        .attr("stroke", "#30C0E8").attr("stroke-width", 1.2);
}

// panels (a) and (b)
let rsPoints = [[214, 0]];
rsFrac.forEach((row, i) => row.forEach((f, j) => rsPoints.push([214 + i + f, rsValue[i][j]])));
rsPoints.push([245, 0]);
svg.append("path")
    .attr("d", d3.line().curve(d3.curveMonotoneX).x(d => x(d[0])).y(d => yRs(d[1]))(rsPoints))
    .attr("fill", "none").attr("stroke", "#0000FF").attr("stroke-width", 3.2);

svg.append("path")
    .attr("d", d3.line().x(d => x(d[0])).y(d => yWind(d[1]))(pairs(windPairs)))
    .attr("fill", "none").attr("stroke", "#FF0000").attr("stroke-width", 3.2);

// panels (c) and (d)
densityField(yC);
densityField(yD);

// panel (e)
let gRi = svg.append("g");
drawPolys(gRi, riLow, yE, "#00008C");
drawPolys(gRi, riHigh, yE, "#800000");

// panel (f)
let gKe = svg.append("g");
gKe.append("rect")
    .attr("x", x(214)).attr("width", x(245) - x(214))
    .attr("y", yF(0.095)).attr("height", yF(1.5) - yF(0.095))
    .attr("fill", "#00008F");
[keLevel1, keLevel2, keLevel3, keLevel4, keLevel5, keLevel6, keLevel7, keLevel8, keLevel9, keLevel10, keLevel11]
    .forEach((level, i) => drawLevel(gKe, level, yF, keColors[i]));

// white boxes behind the labels of the contour panels
function whiteBox(x0, x1, y0, y1) {
    svg.append("rect").attr("x", x0).attr("y", y0)
        .attr("width", x1 - x0).attr("height", y1 - y0).attr("fill", "#fff");
}
whiteBox(126, 352.5, 381.7, 431);
whiteBox(126, 208, 531, 574);
whiteBox(126, 197.6, 819, 857.7);

// axes
function styleAxis(g) {
    g.selectAll(".domain").remove();
    g.selectAll(".tick line").attr("stroke", "#444").attr("stroke-width", 1.4);
}

function frame(y, ticks, yTop, yBottom, showX) {
    let g = svg.append("g");
    g.append("g").attr("transform", "translate(126,0)")
        .call(d3.axisLeft(y).tickValues(ticks).tickSize(-17).tickPadding(9).tickFormat(d => d))
        .call(styleAxis);
    g.append("g").attr("transform", "translate(1681,0)")
        .call(d3.axisRight(y).tickValues(ticks).tickSize(-17).tickFormat(""))
        .call(styleAxis);
    g.append("g").attr("transform", "translate(0," + yTop + ")")
        .call(d3.axisTop(x).tickValues(dayTicks).tickSize(-16).tickFormat(""))
        .call(styleAxis);
    let bottom = d3.axisBottom(x).tickValues(dayTicks).tickSize(-16).tickPadding(15);
    if (!showX) bottom.tickFormat("");
    g.append("g").attr("transform", "translate(0," + yBottom + ")")
        .call(bottom)
        .call(styleAxis);
    g.selectAll(".tick line").each(function () {
        let t = d3.select(this);
        // small hook at the end of the vertical ticks
        if (+t.attr("y2") !== 0 && +t.attr("y2") === 16) {
            d3.select(this.parentNode).append("line").attr("x1", 0).attr("x2", 3).attr("y1", 16).attr("y2", 16)
                .attr("stroke", "#000").attr("stroke-width", 2);
        }
        if (+t.attr("y2") === -16) {
            d3.select(this.parentNode).append("line").attr("x1", 0).attr("x2", 3).attr("y1", -16).attr("y2", -16)
                .attr("stroke", "#000").attr("stroke-width", 2);
        }
    });
    g.append("rect").attr("x", 126).attr("y", yTop)
        .attr("width", 1555).attr("height", yBottom - yTop)
        .attr("fill", "none").attr("stroke", "#111").attr("stroke-width", 1.6);
}
frame(yRs, rsTicks, 22.7, 145.7, false);
frame(yWind, windTicks, 163.7, 288.3, false);
frame(yC, depthTicks, 306.7, 431, false);
frame(yD, depthTicks, 449.3, 574, false);
frame(yE, depthTicks, 592, 716.7, false);
frame(yF, depthTicks, 734.7, 857.7, true);

// text helper: parts are [string, "sup" | "sub" | "sym" | null]
function addText(px, py, parts, opts) {
    opts = opts || {};
    let size = opts.size || 32;
    let t = svg.append("text")
        .attr("text-anchor", opts.anchor || "start")
        .attr("font-size", size);
    if (opts.rotate) t.attr("transform", "translate(" + px + "," + py + ") rotate(-90)");
    else t.attr("x", px).attr("y", py);
    let shift = 0;
    parts.forEach(p => {
        let s = t.append("tspan").text(p[0]);
        let want = p[1] === "sup" ? -0.42 * size : p[1] === "sub" ? 0.58 * size : 0;
        if (want !== shift) s.attr("dy", want - shift);
        shift = want;
        if (p[1] === "sup") s.attr("font-size", size * 0.68);
        if (p[1] === "sub") s.attr("font-size", size * 0.86);
        if (p[1] === "sym") s.style("font-weight", "normal");
        if (p[2]) s.attr("dx", p[2]);
    });
    return t;
}

// panel labels
addText(127, 45, [["(a)"]]);
addText(127, 188, [["(b)"]]);
addText(127, 419, [["(c)"], ["Δρ", "sym"], ["water", "sub", 6], ["/"], ["Δ", "sym"], [" z"]]);
addText(127, 571.7, [["(d)N"], ["2", "sup"]]);
addText(126, 711.7, [["(e)Ri"]]);
addText(127, 853, [["(f)ke"]]);

// axis labels
addText(46, 84, [["Rs(W m"], ["-2", "sup"], [")"]], {rotate: true, anchor: "middle"});
addText(46, 226, [["U(m  s"], ["-1", "sup"], [")"]], {rotate: true, anchor: "middle"}).style("white-space", "pre");
addText(38, 612, [["Depth(m)"]], {rotate: true, anchor: "middle", size: 30})
    .attr("textLength", 92).attr("lengthAdjust", "spacingAndGlyphs");
addText(903, 930, [["Day of Year"]], {anchor: "middle"});

// colorbars
let defs = svg.append("defs");
let grad = defs.append("linearGradient").attr("id", "jet")
    .attr("x1", 0).attr("y1", 1).attr("x2", 0).attr("y2", 0);
jetColors.forEach((c, i) => grad.append("stop").attr("offset", jetOffsets[i]).attr("stop-color", c));

function colorbar(x0, x1, y0, y1, domain, ticks) {
    let scale = d3.scaleLinear().domain(domain).range([y1, y0]);
    svg.append("rect").attr("x", x0).attr("y", y0)
        .attr("width", x1 - x0).attr("height", y1 - y0)
        .attr("fill", "url(#jet)").attr("stroke", "#222").attr("stroke-width", 1.5);
    svg.append("g").attr("transform", "translate(" + x1 + ",0)")
        .call(d3.axisRight(scale).tickValues(ticks).tickSize(3).tickPadding(2).tickFormat(d => String(d)))
        .call(styleAxis);
}
colorbar(1731.7, 1772.7, 302.7, 428.3, [-3.79, 2.93], densBarTicks);
colorbar(1739, 1780, 454, 580, [-0.0375, 0.0298], n2BarTicks);
colorbar(1739, 1780, 592.7, 718, [0, 1], riBarTicks);
colorbar(1740.7, 1781.7, 744, 868, [0, 22], keBarTicks);

addText(1868, 363, [["(kg m"], ["-4", "sup"], [")"]], {rotate: true, anchor: "middle"});
addText(1873, 506, [["(s"], ["-2", "sup"], [")"]], {rotate: true, anchor: "middle"});
addText(1860, 807, [["(cm"], ["2", "sup"], [" s"], ["-1", "sup"], [")"]], {rotate: true, anchor: "middle"});

// highlight boxes
function highlight(d0, d1, y0, y1, r) {
    svg.append("rect")
        .attr("x", x(d0)).attr("y", y0)
        .attr("width", x(d1) - x(d0)).attr("height", y1 - y0)
        .attr("rx", r).attr("ry", r)
        .attr("fill", "none").attr("stroke", "#000").attr("stroke-width", 5.5);
}
highlight(217.37, 224.63, 33, 834, 58);
highlight(233.97, 237.12, 33, 865, 25);
</script>
</body>
</html>
